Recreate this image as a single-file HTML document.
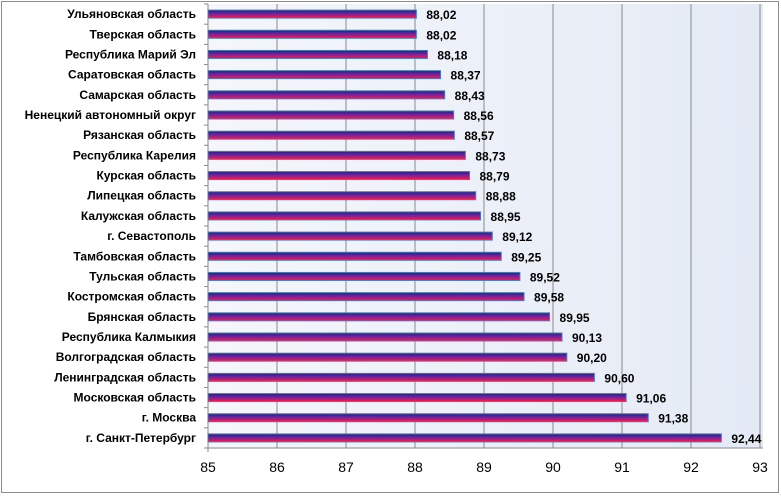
<!DOCTYPE html>
<html><head><meta charset="utf-8"><style>
body{margin:0;background:#fff;font-family:"Liberation Sans",sans-serif}
</style></head><body>
<svg id="c" width="781" height="495" xmlns="http://www.w3.org/2000/svg">
<defs>
<linearGradient id="bg" x1="0" x2="1" y1="0" y2="0"><stop offset="0" stop-color="#f4f6fb"/><stop offset="1" stop-color="#e4eaf5"/></linearGradient>
<linearGradient id="bar" x1="0" x2="0" y1="0" y2="1"><stop offset="0" stop-color="#1f1f8f"/><stop offset="0.45" stop-color="#7a1f9a"/><stop offset="1" stop-color="#ff1a3a"/></linearGradient>
</defs>
<rect x="1.5" y="1.5" width="777" height="491" fill="#fff" stroke="#8c8c8c"/>
<rect x="208" y="4" width="555" height="444" fill="url(#bg)"/>
<g id="g"></g>
</svg>
<script>
const categories=["Ульяновская область","Тверская область","Республика Марий Эл","Саратовская область","Самарская область","Ненецкий автономный округ","Рязанская область","Республика Карелия","Курская область","Липецкая область","Калужская область","г. Севастополь","Тамбовская область","Тульская область","Костромская область","Брянская область","Республика Калмыкия","Волгоградская область","Ленинградская область","Московская область","г. Москва","г. Санкт-Петербург"];
const values=[88.02,88.02,88.18,88.37,88.43,88.56,88.57,88.73,88.79,88.88,88.95,89.12,89.25,89.52,89.58,89.95,90.13,90.20,90.60,91.06,91.38,92.44];
const ticks=[85,86,87,88,89,90,91,92,93];
const X0=208,X1=760,Y0=4,Y1=448,MIN=85,MAX=93;
const x=v=>X0+(v-MIN)/(MAX-MIN)*(X1-X0);
const band=(Y1-Y0)/categories.length;
const y=i=>Y0+band*(i+0.5);
const g=document.getElementById('g');const NS="http://www.w3.org/2000/svg";
function mk(t,a,txt){const e=document.createElementNS(NS,t);for(const k in a)e.setAttribute(k,a[k]);if(txt!=null)e.textContent=txt;g.appendChild(e);return e;}
ticks.forEach(t=>{
 if(t>MIN){const l=mk('line',{x1:x(t),x2:x(t),y1:Y0,y2:Y1,stroke:'#8a8a8a','stroke-width':1});
 
 }
 const tx=mk('text',{x:x(t),y:472,'text-anchor':'middle','font-size':14,fill:'#000'},String(t));
 
 
});
const ax=mk('line',{x1:X0,x2:X0,y1:Y0,y2:Y1+4,stroke:'#8a8a8a'});


const ax2=mk('line',{x1:X0-4,x2:763,y1:Y1,y2:Y1,stroke:'#8a8a8a'});


categories.forEach((c,i)=>{
 const cy=y(i);
 const tk=mk('line',{x1:X0-4,x2:X0,y1:Y0+band*i,y2:Y0+band*i,stroke:'#8a8a8a'});
 
 
 const lb=mk('text',{x:196,y:cy+4,'text-anchor':'end','font-size':12,'font-weight':'bold',fill:'#000'},c);
 
 
 const r=mk('rect',{x:X0,y:cy-4,width:x(values[i])-X0,height:8,fill:'url(#bar)',stroke:'#4a7ab8','stroke-width':1});
 
 
 const v=mk('text',{x:x(values[i])+10,y:cy+5,'font-size':12,'font-weight':'bold',fill:'#000'},values[i].toFixed(2).replace('.',','));
 
 
});
</script>
</body></html>
